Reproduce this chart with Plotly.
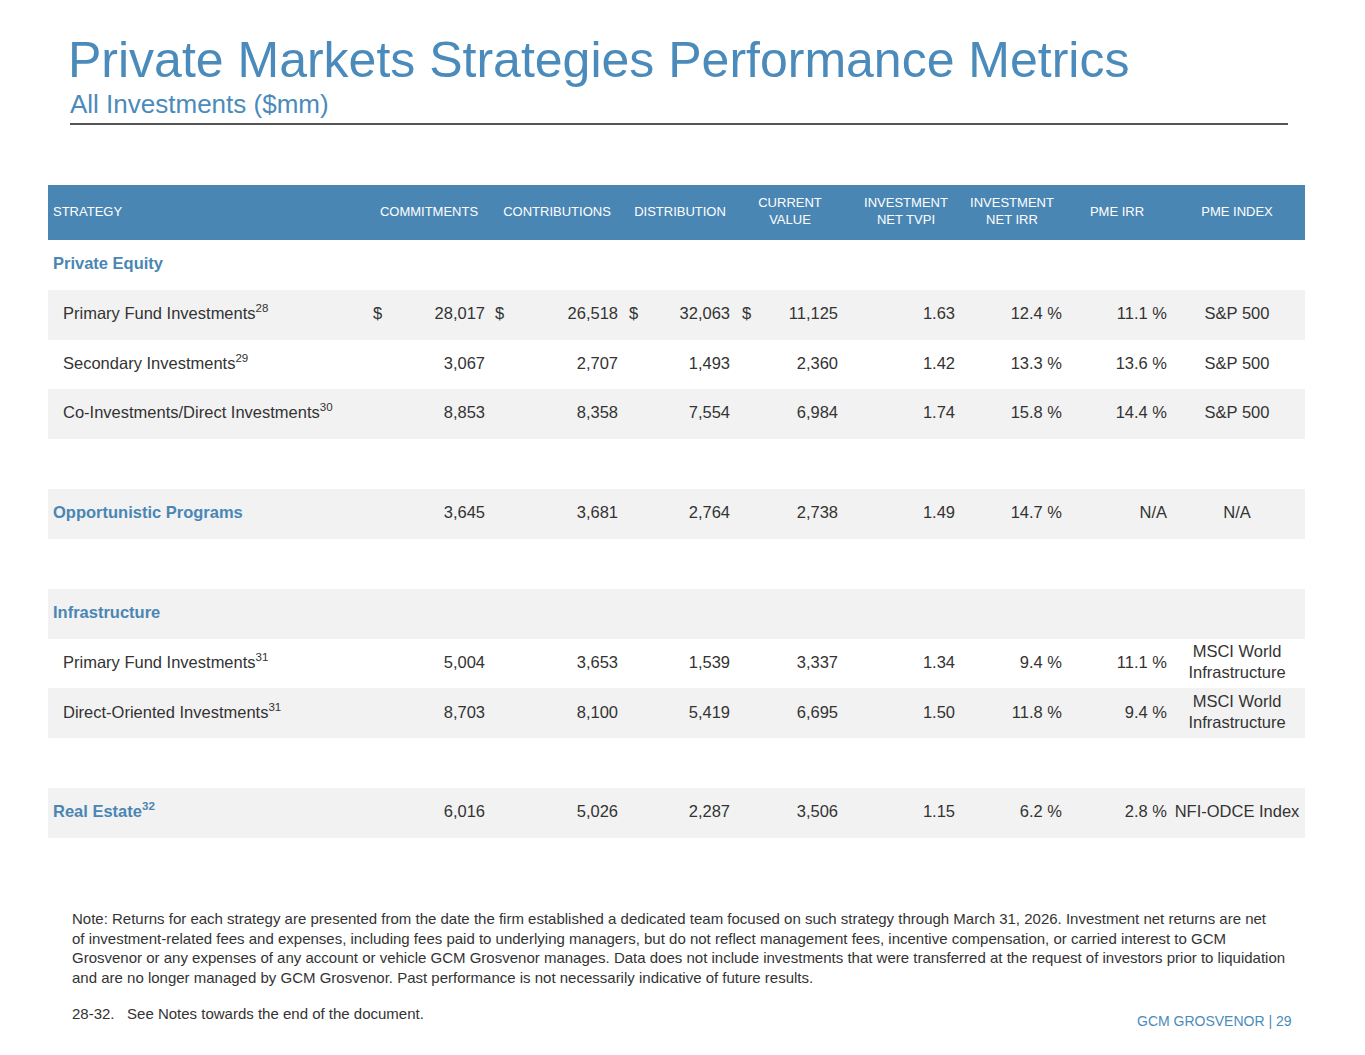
import plotly.graph_objects as go

# table rows, top to bottom
strategy = [
    "Private Equity",
    "Primary Fund Investments<sup>28</sup>",
    "Secondary Investments<sup>29</sup>",
    "Co-Investments/Direct Investments<sup>30</sup>",
    "",
    "Opportunistic Programs",
    "",
    "Infrastructure",
    "Primary Fund Investments<sup>31</sup>",
    "Direct-Oriented Investments<sup>31</sup>",
    "",
    "Real Estate<sup>32</sup>",
]
row_kind = ["section", "item", "item", "item", "blank", "section", "blank",
            "section", "item", "item", "blank", "section"]
dollar_rows = [1]  # rows that carry the "$" sign

commitments = [None, 28017, 3067, 8853, None, 3645, None, None, 5004, 8703, None, 6016]
contributions = [None, 26518, 2707, 8358, None, 3681, None, None, 3653, 8100, None, 5026]
distribution = [None, 32063, 1493, 7554, None, 2764, None, None, 1539, 5419, None, 2287]
current_value = [None, 11125, 2360, 6984, None, 2738, None, None, 3337, 6695, None, 3506]
net_tvpi = [None, 1.63, 1.42, 1.74, None, 1.49, None, None, 1.34, 1.50, None, 1.15]
net_irr = [None, 12.4, 13.3, 15.8, None, 14.7, None, None, 9.4, 11.8, None, 6.2]
pme_irr = [None, 11.1, 13.6, 14.4, None, "N/A", None, None, 11.1, 9.4, None, 2.8]
pme_index = ["", "S&P 500", "S&P 500", "S&P 500", "", "N/A", "", "",
             "MSCI World<br>Infrastructure", "MSCI World<br>Infrastructure", "", "NFI-ODCE Index"]

headers = ["STRATEGY", "COMMITMENTS", "CONTRIBUTIONS", "DISTRIBUTION", "CURRENT<br>VALUE",
           "INVESTMENT<br>NET TVPI", "INVESTMENT<br>NET IRR", "PME IRR", "PME INDEX"]

note_lines = [
    "Note: Returns for each strategy are presented from the date the firm established a dedicated team focused on such strategy through March 31, 2026. Investment net returns are net",
    "of investment-related fees and expenses, including fees paid to underlying managers, but do not reflect management fees, incentive compensation, or carried interest to GCM",
    "Grosvenor or any expenses of any account or vehicle GCM Grosvenor manages. Data does not include investments that were transferred at the request of investors prior to liquidation",
    "and are no longer managed by GCM Grosvenor. Past performance is not necessarily indicative of future results.",
]
notes_ref = "28-32.\u00a0\u00a0\u00a0See Notes towards the end of the document."

# styling
BLUE = "#4a86b4"
TITLE_BLUE = "#4b8bbb"
GREY_ROW = "#f2f2f2"
TEXT = "#333333"
FONT = "Liberation Sans"
BODY = 16.5
W, H = 1365, 1055
OFF = 8  # page margin around the figure
TABLE_L, TABLE_R = 48, 1305
TABLE_TOP, TABLE_BOTTOM = 185, 838
HEAD_X = [53, 429, 557, 680, 790, 906, 1012, 1117, 1237]
HEAD_Y = -1.05


def px(x):
    return (x - OFF) / W


def py(y):
    return 1 - (y - OFF) / H


def money(v):
    return f"{v:,.0f}"


def ratio(v):
    return f"{v:.2f}"


def pct(v):
    return v if isinstance(v, str) else f"{v:.1f} %"


fig = go.Figure()

# alternating grey rows
grey = [i for i in range(len(strategy)) if i % 2 == 1]
fig.add_trace(go.Bar(
    y=grey, x=[TABLE_R - TABLE_L] * len(grey), base=TABLE_L, orientation="h",
    width=1, marker=dict(color=GREY_ROW, line=dict(width=0)), hoverinfo="skip"))

# header band
fig.add_trace(go.Bar(
    y=[HEAD_Y], x=[TABLE_R - TABLE_L], base=TABLE_L, orientation="h",
    width=1.1, marker=dict(color=BLUE, line=dict(width=0)), hoverinfo="skip"))

fig.add_trace(go.Scatter(
    x=HEAD_X, y=[HEAD_Y] * len(headers), mode="text", text=headers,
    textposition=["middle right"] + ["middle center"] * (len(headers) - 1),
    textfont=dict(family=FONT, size=13, color="white"), hoverinfo="skip", cliponaxis=False))

# strategy column
sx, sy, st, sc = [], [], [], []
for i, (label, kind) in enumerate(zip(strategy, row_kind)):
    if kind == "blank":
        continue
    sx.append(53 if kind == "section" else 63)
    sy.append(i)
    st.append(f"<b>{label}</b>" if kind == "section" else label)
    sc.append(BLUE if kind == "section" else TEXT)
fig.add_trace(go.Scatter(
    x=sx, y=sy, mode="text", text=st, textposition="middle right",
    textfont=dict(family=FONT, size=BODY, color=sc), hoverinfo="skip", cliponaxis=False))

# numeric columns: (values, formatter, right edge, dollar sign x)
columns = [
    (commitments, money, 485, 373),
    (contributions, money, 618, 495),
    (distribution, money, 730, 629),
    (current_value, money, 838, 742),
    (net_tvpi, ratio, 955, None),
    (net_irr, pct, 1062, None),
    (pme_irr, pct, 1167, None),
]
for values, fmt, xr, xd in columns:
    rows = [i for i, v in enumerate(values) if v is not None]
    fig.add_trace(go.Scatter(
        x=[xr] * len(rows), y=rows, mode="text", text=[fmt(values[i]) for i in rows],
        textposition="middle left", textfont=dict(family=FONT, size=BODY, color=TEXT),
        hoverinfo="skip", cliponaxis=False))
    if xd is not None:
        fig.add_trace(go.Scatter(
            x=[xd] * len(dollar_rows), y=dollar_rows, mode="text", text=["$"] * len(dollar_rows),
            textposition="middle right", textfont=dict(family=FONT, size=BODY, color=TEXT),
            hoverinfo="skip", cliponaxis=False))

rows = [i for i, v in enumerate(pme_index) if v]
fig.add_trace(go.Scatter(
    x=[1237] * len(rows), y=rows, mode="text", text=[pme_index[i] for i in rows],
    textposition="middle center", textfont=dict(family=FONT, size=BODY, color=TEXT),
    hoverinfo="skip", cliponaxis=False))

fig.update_layout(
    width=W, height=H, margin=dict(l=0, r=0, t=0, b=0),
    paper_bgcolor="white", plot_bgcolor="rgba(0,0,0,0)",
    showlegend=False, bargap=0,
    xaxis=dict(range=[OFF, W + OFF], domain=[0, 1], visible=False, fixedrange=True),
    yaxis=dict(range=[len(strategy) - 0.5, -1.6], domain=[py(TABLE_BOTTOM), py(TABLE_TOP)],
               visible=False, fixedrange=True),
)

# title block
fig.add_annotation(
    text="Private Markets Strategies Performance Metrics", xref="paper", yref="paper",
    x=px(66), y=py(60), xanchor="left", yanchor="middle", showarrow=False,
    font=dict(family=FONT, size=50, color=TITLE_BLUE))
fig.add_annotation(
    text="All Investments ($mm)", xref="paper", yref="paper",
    x=px(68), y=py(104), xanchor="left", yanchor="middle", showarrow=False,
    font=dict(family=FONT, size=26, color=TITLE_BLUE))
fig.add_shape(type="line", xref="paper", yref="paper",
              x0=px(70), x1=px(1288), y0=py(124), y1=py(124),
              line=dict(color="#555555", width=2))

# footnotes
fig.add_annotation(
    text="<br>".join(note_lines), xref="paper", yref="paper",
    x=px(70), y=py(908), xanchor="left", yanchor="top", align="left", showarrow=False,
    font=dict(family=FONT, size=15, color=TEXT))
fig.add_annotation(
    text=notes_ref, xref="paper", yref="paper",
    x=px(70), y=py(1013), xanchor="left", yanchor="middle", align="left", showarrow=False,
    font=dict(family=FONT, size=15, color=TEXT))
fig.add_annotation(
    text="GCM GROSVENOR | 29", xref="paper", yref="paper",
    x=px(1294), y=py(1021), xanchor="right", yanchor="middle", showarrow=False,
    font=dict(family=FONT, size=14, color=TITLE_BLUE))

fig.write_html("out.html")
